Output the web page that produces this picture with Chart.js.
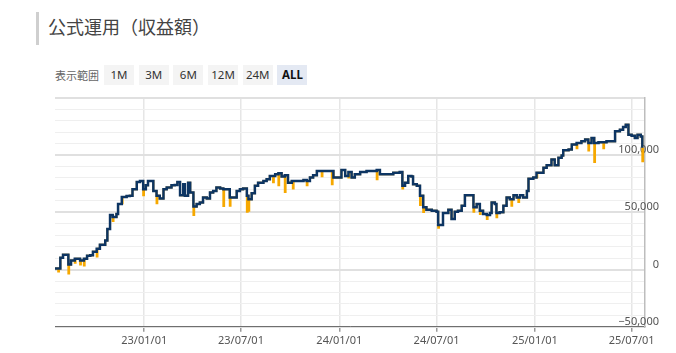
<!DOCTYPE html>
<html><head><meta charset="utf-8">
<script src="https://cdn.jsdelivr.net/npm/chart.js@4.4.1/dist/chart.umd.min.js"></script>
<style>
html,body{margin:0;padding:0;background:#fff;}
body{width:676px;height:353px;overflow:hidden;position:relative;font-family:"Noto Sans CJK JP","Noto Sans",sans-serif;}
.bar{position:absolute;left:36px;top:12px;width:3px;height:33px;background:#cfcfcf;}
.title{position:absolute;left:48px;top:14px;font-size:18px;color:#444;line-height:24px;white-space:nowrap;}
.range{position:absolute;left:55px;top:65px;height:20px;display:flex;align-items:center;font-size:11px;color:#666;white-space:nowrap;}
.range .lbl{margin-right:5px;}
.btn{width:30px;height:20px;line-height:20px;text-align:center;background:#f4f4f4;margin-right:4.7px;font-family:"Noto Sans","Noto Sans CJK JP",sans-serif;font-size:11.5px;color:#333;}
.btn.on{background:#e4e9f3;font-weight:bold;color:#111;}
#wrap{position:absolute;left:0;top:90px;width:676px;height:263px;}
</style></head>
<body>
<div class="bar"></div>
<div class="title">公式運用（収益額）</div>
<div class="range"><span class="lbl">表示範囲</span><div class="btn">1M</div><div class="btn">3M</div><div class="btn">6M</div><div class="btn">12M</div><div class="btn">24M</div><div class="btn on">ALL</div></div>
<div id="wrap"><canvas id="c" width="676" height="263"></canvas></div>
<script>
// day offsets from 2023-01-01
const days = [
 -167,-161,-157,-152,-145,-142,-137,-130,-120,-113,
 -107,-101,-96,-89,-83,-73,-69,-64,-59,-52,
 -49,-42,-33,-27,-22,-14,-8,-2,3,7,
 14,17,23,29,36,42,51,57,62,67,
 73,76,82,86,92,98,104,110,117,123,
 129,135,142,148,154,160,167,173,179,185,
 192,195,201,207,213,223,229,235,245,251,
 257,263,269,276,285,298,304,310,316,323,
 332,341,351,354,363,369,376,382,388,394,
 404,416,428,435,441,454,466,478,483,488,
 494,500,503,510,516,522,528,538,547,550,
 556,559,569,575,581,587,594,600,609,616,
 622,628,634,641,647,650,656,659,665,672,
 678,684,691,697,703,709,716,719,728,734,
 740,747,753,762,768,775,781,784,794,800,
 809,818,825,831,837,842,850,859,865,875,
 881,890,896,901,906,912,918,923,929,932
];
const profit = [
 1000,1000,10400,13000,13000,4400,7800,9500,7800,9500,
 12100,12400,15500,18200,21700,25300,35500,47600,45900,48500,
 57200,63300,64200,64400,70200,76500,77300,70200,73700,77300,
 77300,68700,64400,62100,70200,71700,73700,73900,76500,64900,
 74500,64400,75900,67300,55100,57200,58600,63000,62100,67300,
 68700,71700,70800,70200,70200,63000,63000,68700,70200,70800,
 64400,61500,66700,73100,75900,77300,78800,81700,83200,84100,
 81200,82300,75900,77300,77300,78200,77300,80300,82300,86000,
 86000,86000,86000,80300,80300,86900,81700,85100,80300,83200,
 85100,86000,86000,86900,83200,83200,84600,85100,73100,75900,
 81700,81200,74500,73100,64400,54400,52300,51400,50500,39000,
 39000,49400,52300,44200,50500,51400,55700,64900,64900,54400,
 57200,51400,48500,47600,49400,58600,57200,49400,50000,55700,
 63000,61500,64900,63000,64900,63000,68700,79400,80300,84600,
 84600,89000,91000,96100,91000,97600,99600,104200,104800,109200,
 110600,112000,113500,110600,114900,110600,111200,111200,112000,112000,
 120700,122200,124400,126500,117800,116900,114900,117800,116300,106300
];
// short downward spikes of the orange series
const dipDays = [-161,-142,-130,-120,-113,-89,-59,-42,-2,23,92,148,160,192,195,241,251,263,278,304,332,351,382,435,483,516,522,550,616,628,641,659,687,700,734,809,831,842,859,932];
const dipLows = [-1700,-3500,6000,4400,3500,11300,42500,58000,64900,58000,47600,55400,55700,50500,51400,76200,73700,67800,70800,73700,81500,74500,80300,78800,70800,56300,50300,36400,50500,48500,44200,45600,55700,59000,80600,105900,104000,93900,105900,94600];
const tickLabels = ['23/01/01','23/07/01','24/01/01','24/07/01','25/01/01','25/07/01'];
const xMin = -167, xMax = 937;
const yMin = -50000, yMax = 150000;

const base = Date.UTC(2023,0,1);
const tickDays = tickLabels.map(s => {
  const [y,m,d] = s.split('/').map(Number);
  return Math.round((Date.UTC(2000+y, m-1, d) - base) / 86400000);
});

const navyPts = days.map((d,i) => ({x:d, y:profit[i]}));
function navyAt(day){ let v = profit[0]; for (let i=0;i<days.length;i++){ if (days[i] <= day) v = profit[i]; } return v; }
const dipSet = new Set(dipDays);
let orangePts = navyPts.filter(p => !dipSet.has(p.x));
dipDays.forEach((d,i) => { orangePts.push({x:d, y:dipLows[i]}); orangePts.push({x:d+1.5, y:navyAt(d)}); });
orangePts.sort((a,b) => a.x - b.x);

const fmt = v => (v < 0 ? '\u2212' : '') + Math.abs(v).toLocaleString('en-US');

new Chart(document.getElementById('c'), {
  type: 'line',
  data: { datasets: [
    { data: navyPts, borderColor: '#0d3563', borderWidth: 2.5, pointRadius: 0, stepped: true, fill: false },
    { data: orangePts, borderColor: '#f6a800', borderWidth: 2, pointRadius: 0, stepped: true, fill: false }
  ]},
  options: {
    responsive: false, animation: false, devicePixelRatio: 1,
    layout: { padding: { left: 55, right: 17, top: 7.8, bottom: 4 } },
    plugins: { legend: { display: false }, tooltip: { enabled: false } },
    scales: {
      x: {
        type: 'linear', min: xMin, max: xMax,
        afterBuildTicks: s => { s.ticks = tickDays.map(v => ({value: v})); },
        ticks: { autoSkip: false, maxRotation: 0, padding: 2, color: '#555',
          font: { family: 'Noto Sans', size: 11 },
          callback: v => { const i = tickDays.indexOf(v); return i >= 0 ? tickLabels[i] : ''; } },
        grid: { color: '#e6e6e6', lineWidth: 1.5, tickColor: '#999', tickLength: 5 },
        border: { color: '#6f6f6f', width: 1 }
      },
      y: {
        position: 'right', min: yMin, max: yMax,
        afterFit: s => { s.width = 14; s.paddingTop = 0; s.paddingBottom = 0; },
        ticks: { stepSize: 10000, autoSkip: false, mirror: true, crossAlign: 'near', padding: 14, labelOffset: -5,
          color: '#555', font: { family: 'Noto Sans', size: 11 },
          callback: v => (v % 50000 === 0 && v !== yMax) ? fmt(v) : '' },
        grid: { drawTicks: false,
          color: c => (c.tick && c.tick.value % 50000 === 0) ? '#e0e0e0' : '#efefef',
          lineWidth: c => (c.tick && c.tick.value % 50000 === 0) ? 2 : 1 },
        border: { color: '#bdbdbd', width: 1.5 }
      }
    }
  }
});
</script>
</body></html>
